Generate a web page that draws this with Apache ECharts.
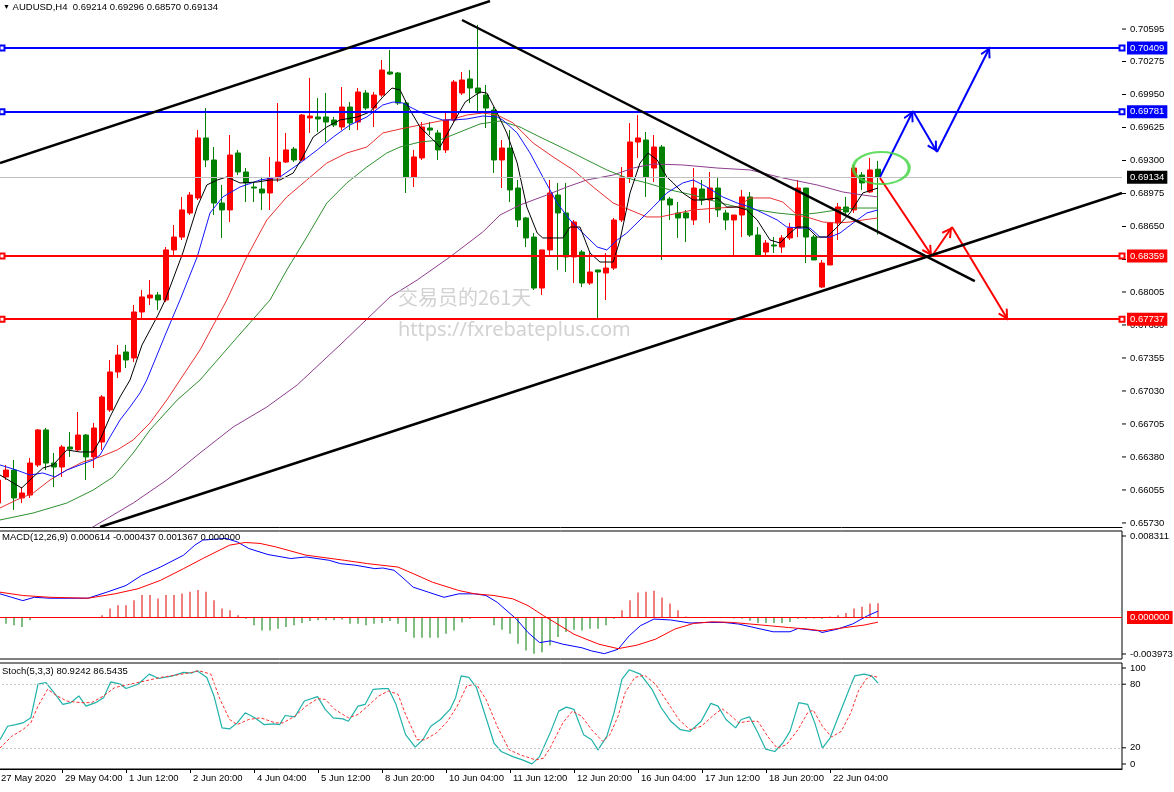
<!DOCTYPE html>
<html>
<head>
<meta charset="utf-8">
<title>AUDUSD H4</title>
<script src="https://cdn.jsdelivr.net/npm/echarts@6.0.0/dist/echarts.min.js"></script>
<style>
html,body{margin:0;padding:0;background:#ffffff;overflow:hidden}
#chart{width:1174px;height:792px}
</style>
</head>
<body>
<div id="chart"></div>
<script>
// ---------------- data ----------------
const tickLabels = ['27 May 2020','29 May 04:00','1 Jun 12:00','2 Jun 20:00','4 Jun 04:00','5 Jun 12:00','8 Jun 20:00','10 Jun 04:00','11 Jun 12:00','12 Jun 20:00','16 Jun 04:00','17 Jun 12:00','18 Jun 20:00','22 Jun 04:00'];
const barCount = 141;
const priceTicks = [0.65730,0.66055,0.66380,0.66705,0.67030,0.67355,0.67680,0.68005,0.68325,0.68650,0.68975,0.69300,0.69625,0.69950,0.70275,0.70595];
const priceRange = [0.65690, 0.70881];
const macdRange = [-0.003973, 0.008311];
const stochTicks = [0, 20, 80, 100];
const stochLevels = [80, 20];
const levelValues = [0.70409, 0.69781, 0.68359, 0.67737];

// [open, high, low, close]
const ohlc = [
[0.65926,0.66202,0.65877,0.66153],[0.66183,0.66301,0.66153,0.66251],[0.66251,0.66350,0.65858,0.65976],[0.65976,0.66084,0.65926,0.66025],
[0.66005,0.66370,0.65976,0.66320],[0.66301,0.66655,0.66281,0.66646],[0.66646,0.66665,0.66251,0.66320],[0.66320,0.66419,0.66084,0.66281],
[0.66281,0.66498,0.66183,0.66478],[0.66478,0.66626,0.66380,0.66458],[0.66449,0.66823,0.66439,0.66596],[0.66596,0.66606,0.66153,0.66380],
[0.66380,0.66715,0.66271,0.66665],[0.66527,0.66990,0.66449,0.66971],[0.66843,0.67335,0.66823,0.67217],[0.67217,0.67483,0.67158,0.67384],
[0.67414,0.67483,0.67256,0.67335],[0.67355,0.67877,0.67315,0.67808],[0.67808,0.68025,0.67749,0.67956],[0.67946,0.68123,0.67877,0.67975],
[0.67975,0.68005,0.67828,0.67926],[0.67926,0.68448,0.67906,0.68419],[0.68419,0.68665,0.68369,0.68546],[0.68546,0.68941,0.68517,0.68813],
[0.68783,0.68990,0.68763,0.68960],[0.68931,0.69600,0.68911,0.69522],[0.69522,0.69817,0.69236,0.69305],[0.69305,0.69433,0.68763,0.68881],
[0.68881,0.69059,0.68537,0.68813],[0.68813,0.69551,0.68694,0.69354],[0.69374,0.69404,0.69157,0.69187],[0.69187,0.69226,0.68891,0.69079],
[0.69039,0.69088,0.68891,0.69029],[0.69019,0.69138,0.68813,0.68980],[0.68980,0.69335,0.68813,0.69128],[0.69128,0.69866,0.69088,0.69285],
[0.69285,0.69571,0.69275,0.69404],[0.69413,0.69433,0.69285,0.69305],[0.69305,0.69758,0.69295,0.69748],[0.69719,0.70113,0.69571,0.69738],
[0.69729,0.69916,0.69581,0.69709],[0.69729,0.69965,0.69482,0.69679],[0.69699,0.69729,0.69630,0.69650],[0.69630,0.70024,0.69600,0.69827],
[0.69827,0.69876,0.69600,0.69669],[0.69679,0.70014,0.69600,0.69975],[0.69965,0.69995,0.69797,0.69817],[0.69817,0.69975,0.69630,0.69945],
[0.69945,0.70290,0.69926,0.70191],[0.70172,0.70389,0.70142,0.70152],[0.70162,0.70172,0.69847,0.69866],[0.69866,0.69896,0.68980,0.69138],
[0.69138,0.69404,0.69039,0.69335],[0.69325,0.69679,0.69305,0.69630],[0.69620,0.69679,0.69551,0.69600],[0.69571,0.69600,0.69305,0.69404],
[0.69404,0.69768,0.69374,0.69699],[0.69699,0.70093,0.69679,0.70073],[0.69965,0.70172,0.69945,0.70093],[0.70103,0.70191,0.69866,0.70014],
[0.70014,0.70635,0.69768,0.69965],[0.69945,0.70044,0.69620,0.69817],[0.69797,0.69827,0.69177,0.69305],[0.69305,0.69502,0.69029,0.69423],
[0.69423,0.69600,0.68891,0.69010],[0.69029,0.69108,0.68645,0.68714],[0.68734,0.68744,0.68448,0.68537],[0.68546,0.68586,0.68025,0.68044],
[0.68044,0.68419,0.67975,0.68419],[0.68419,0.69108,0.68350,0.68980],[0.68960,0.69079,0.68222,0.68783],[0.68783,0.69079,0.68202,0.68350],
[0.68350,0.68714,0.68093,0.68694],[0.68399,0.68419,0.68054,0.68093],[0.68093,0.68389,0.68074,0.68202],[0.68222,0.68222,0.67729,0.68202],
[0.68192,0.68389,0.67926,0.68241],[0.68241,0.68734,0.68222,0.68714],[0.68714,0.69236,0.68694,0.69138],[0.69138,0.69669,0.69079,0.69482],
[0.69482,0.69748,0.69325,0.69522],[0.69502,0.69581,0.68941,0.69138],[0.69226,0.69551,0.69088,0.69433],[0.69433,0.69453,0.68320,0.68911],
[0.68921,0.68941,0.68714,0.68862],[0.68783,0.68891,0.68537,0.68734],[0.68783,0.68813,0.68497,0.68734],[0.68714,0.69226,0.68665,0.69029],
[0.69019,0.69108,0.68862,0.68911],[0.68911,0.69187,0.68685,0.69029],[0.69029,0.69128,0.68744,0.68813],[0.68783,0.68813,0.68616,0.68714],
[0.68714,0.68763,0.68369,0.68763],[0.68763,0.69010,0.68546,0.68941],[0.68941,0.68990,0.68546,0.68566],[0.68566,0.68645,0.68369,0.68369],
[0.68399,0.68517,0.68369,0.68487],[0.68468,0.68546,0.68389,0.68458],[0.68448,0.68566,0.68389,0.68537],[0.68537,0.68685,0.68517,0.68635],
[0.68635,0.69108,0.68546,0.69029],[0.69029,0.69029,0.68290,0.68546],[0.68546,0.68566,0.68320,0.68320],[0.68054,0.68320,0.68044,0.68290],
[0.68271,0.68694,0.68271,0.68685],[0.68685,0.68881,0.68517,0.68842],[0.68842,0.68941,0.68763,0.68793],[0.68813,0.69256,0.68783,0.69226],
[0.69157,0.69187,0.69010,0.69079],[0.68990,0.69325,0.68980,0.69207],[0.69214,0.69296,0.68570,0.69134]
];

// moving averages as [bar, price]
const maBlack = [[0.25,0.66202],[2.96,0.66074],[4,0.66153],[5.6,0.66271],[6.9,0.66301],[8.6,0.66449],[10.25,0.66429],[11.9,0.66429],[12.75,0.66547],[14,0.66774],[15.25,0.66971],[16.5,0.67138],[18,0.67483],[20,0.67778],[20.9,0.67926],[23.1,0.68389],[24.9,0.68842],[26.1,0.69059],[27.4,0.69108],[28.6,0.69138],[30.25,0.69079],[32.4,0.69088],[34,0.69108],[35.25,0.69108],[36.9,0.69177],[38.1,0.69335],[39.4,0.69531],[41.1,0.69630],[42.75,0.69699],[44.9,0.69729],[46.5,0.69778],[48.1,0.69926],[49.25,0.70014],[50.25,0.69995],[51.5,0.69797],[52.75,0.69630],[54.4,0.69502],[55.25,0.69433],[56.9,0.69669],[58.4,0.69876],[60.25,0.69975],[61.1,0.69965],[62.4,0.69768],[63.6,0.69571],[64.9,0.69275],[66.1,0.68842],[67.4,0.68586],[68.1,0.68537],[69.4,0.68537],[70.6,0.68537],[71.5,0.68645],[72.75,0.68645],[74,0.68389],[75.25,0.68300],[76.9,0.68300],[77.75,0.68517],[79,0.68980],[80.25,0.69275],[81.25,0.69374],[82.4,0.69305],[83.6,0.69138],[84.4,0.69079],[85.6,0.68980],[86.9,0.68911],[88.1,0.68911],[89.9,0.68931],[91.1,0.68842],[92.4,0.68842],[93.6,0.68813],[94.9,0.68714],[96.5,0.68517],[97.75,0.68487],[99,0.68586],[99.9,0.68645],[101.1,0.68645],[102.4,0.68546],[103.6,0.68546],[104.9,0.68645],[106.5,0.68783],[108.1,0.68980],[110,0.69029]];
const maBlue = [[0.25,0.66301],[2.3,0.66251],[4,0.66202],[5.6,0.66222],[7.1,0.66183],[8.6,0.66251],[10.25,0.66301],[11.9,0.66350],[12.75,0.66399],[14,0.66577],[15.25,0.66744],[16.5,0.66872],[17.75,0.67010],[18.6,0.67138],[20.9,0.67581],[22.75,0.67926],[24.9,0.68350],[26.5,0.68783],[28.1,0.68941],[30.25,0.69039],[32.75,0.69108],[35.25,0.69138],[37.75,0.69275],[39.9,0.69404],[41.9,0.69531],[44,0.69650],[46.1,0.69729],[48.1,0.69847],[49.4,0.69876],[50.6,0.69866],[51.5,0.69827],[52.75,0.69778],[54.4,0.69729],[55.6,0.69699],[56.9,0.69699],[58.6,0.69709],[60.6,0.69738],[62.4,0.69729],[63.1,0.69699],[64.9,0.69571],[66.5,0.69374],[68.1,0.69138],[69.9,0.68881],[71.5,0.68714],[73.1,0.68586],[74.9,0.68448],[76.1,0.68419],[77.4,0.68517],[78.6,0.68586],[80.25,0.68714],[81.9,0.68842],[83.6,0.68980],[85.6,0.69079],[86.9,0.69108],[88.6,0.69039],[90.6,0.68941],[92.4,0.68881],[94,0.68842],[95.6,0.68783],[97.4,0.68714],[98.6,0.68645],[100.25,0.68635],[101.5,0.68635],[102.75,0.68546],[104,0.68546],[105.25,0.68586],[106.9,0.68685],[108.6,0.68783],[110,0.68813]];
const maRed = [[0.25,0.65877],[2.3,0.65956],[4.4,0.66025],[6.5,0.66153],[8.6,0.66251],[10.6,0.66330],[12.75,0.66380],[14.9,0.66449],[16.9,0.66547],[19,0.66715],[21.1,0.66941],[22.75,0.67138],[25.25,0.67434],[28.6,0.67926],[31.1,0.68350],[33.6,0.68714],[36.1,0.68941],[38.6,0.69108],[41.1,0.69275],[43.6,0.69374],[46.1,0.69433],[48.1,0.69571],[50.25,0.69610],[52.75,0.69650],[55.25,0.69689],[56.9,0.69709],[58.6,0.69748],[60.6,0.69768],[62.4,0.69748],[64.4,0.69669],[66.9,0.69472],[69.4,0.69335],[71.9,0.69207],[74.4,0.69039],[76.9,0.68881],[79,0.68813],[81.1,0.68744],[82.75,0.68744],[86.9,0.68813],[89.9,0.68832],[92.4,0.68842],[94,0.68931],[96.5,0.68931],[98.1,0.68891],[99.9,0.68763],[101.5,0.68734],[103.1,0.68694],[104.9,0.68685],[106.5,0.68694],[108.1,0.68714],[110,0.68734]];
const maGreen = [[0.25,0.65759],[4.4,0.65828],[8.6,0.65926],[11.9,0.66054],[14.4,0.66183],[16.9,0.66419],[19,0.66646],[22.4,0.66941],[25.25,0.67138],[29.6,0.67532],[34,0.67926],[36.1,0.68222],[38.6,0.68546],[41.1,0.68881],[43.6,0.69079],[46.1,0.69236],[48.6,0.69374],[50.25,0.69433],[52.75,0.69482],[55.25,0.69502],[57.75,0.69581],[60.25,0.69660],[62.75,0.69689],[65.25,0.69630],[67.75,0.69531],[71.1,0.69404],[73.6,0.69305],[76.1,0.69207],[78.6,0.69128],[81.1,0.69079],[84,0.69010],[86.9,0.68960],[89.9,0.68891],[92.4,0.68842],[94.9,0.68813],[97.4,0.68783],[99.9,0.68763],[102.4,0.68783],[104.9,0.68813],[107.4,0.68832],[110,0.68832]];
const maPurple = [[11,0.65650],[16.9,0.65926],[21.1,0.66153],[25.25,0.66419],[29.4,0.66675],[33.6,0.66872],[37.4,0.67089],[42.75,0.67483],[49,0.67956],[52.4,0.68123],[56.5,0.68350],[60.6,0.68596],[62.75,0.68763],[65.25,0.68862],[68.6,0.68960],[71.1,0.69039],[73.6,0.69108],[76.9,0.69157],[79.4,0.69226],[81.9,0.69266],[85.6,0.69256],[89.9,0.69226],[94,0.69207],[98.1,0.69128],[102.4,0.69059],[105.6,0.68990],[108.1,0.68960],[110,0.68941]];

// drawn objects, as [bar, price]
const upperChannel = [[0.25,0.69275],[61.5,0.70871]];
const lowerChannel = [[12.75,0.65690],[140.5,0.68980]];
const fallingLine = [[58,0.70684],[122.1,0.68113]];
const bluePath = [[110.25,0.69138],[114.375,0.69788],[117.375,0.69384],[124,0.70418]];
const redPath = [[110.25,0.69128],[116.75,0.68359],[119.25,0.68645],[126.25,0.67729]];
const circleAt = [[110.4,0.69226]];

// MACD(12,26,9)
const macdHist = [-0.00040,-0.00058,-0.00074,-0.00090,-0.00026,-0.00005,-0.00003,0.00002,0.00002,0.00003,0.00002,0.00002,0.00005,0.00022,0.00087,0.00119,0.00119,0.00167,0.00216,0.00216,0.00184,0.00216,0.00216,0.00232,0.00249,0.00264,0.00249,0.00167,0.00087,0.00071,0.00022,-0.00010,-0.00074,-0.00123,-0.00123,-0.00106,-0.00090,-0.00074,-0.00051,-0.00032,-0.00026,-0.00026,-0.00026,-0.00019,-0.00058,-0.00058,-0.00074,-0.00058,-0.00051,-0.00032,-0.00058,-0.00138,-0.00193,-0.00193,-0.00193,-0.00193,-0.00155,-0.00123,-0.00048,-0.00010,0.00003,0.00002,-0.00074,-0.00116,-0.00155,-0.00251,-0.00316,-0.00348,-0.00332,-0.00268,-0.00187,-0.00138,-0.00116,-0.00123,-0.00106,-0.00106,-0.00074,-0.00010,0.00071,0.00167,0.00242,0.00249,0.00258,0.00193,0.00135,0.00071,0.00010,0.00005,0.00004,0.00003,-0.00003,-0.00005,-0.00008,-0.00010,-0.00030,-0.00051,-0.00051,-0.00051,-0.00051,-0.00042,-0.00012,-0.00010,-0.00008,-0.00010,0.00010,0.00022,0.00045,0.00087,0.00103,0.00135,0.001367];
const macdMain = [[0.25,0.00228],[1.7,0.00195],[3.1,0.00163],[4.55,0.00195],[6.5,0.00186],[11.25,0.00186],[13.6,0.00244],[16,0.00308],[17.95,0.00405],[20.3,0.00485],[23.2,0.00599],[24.6,0.00695],[25.6,0.00744],[28.5,0.00760],[29.9,0.00727],[31.35,0.00663],[33.75,0.00605],[36.6,0.00567],[38.5,0.00582],[41.4,0.00550],[42.8,0.00518],[44.75,0.00502],[47.1,0.00470],[48.1,0.00476],[49.5,0.00454],[50.5,0.00389],[51.9,0.00292],[53.8,0.00244],[55.75,0.00195],[57.6,0.00228],[59.6,0.00228],[61,0.00212],[62.4,0.00147],[64.8,-0.00014],[66.25,-0.00143],[67.7,-0.00240],[69.1,-0.00223],[70.6,-0.00255],[73,-0.00290],[74.2,-0.00320],[75.8,-0.00346],[77.5,-0.00304],[78.9,-0.00175],[80.3,-0.00078],[82,-0.00014],[84.1,-0.00023],[86.5,-0.00052],[88.85,-0.00046],[90.7,-0.00046],[92.6,-0.00062],[94.5,-0.00095],[96.9,-0.00136],[99,-0.00136],[100,-0.00104],[102.6,-0.00127],[103,-0.00143],[104.95,-0.00110],[106.8,-0.00062],[108.7,0.00018],[110,0.000614]];
const macdSignal = [[0.25,0.00244],[3.1,0.00212],[6.5,0.00195],[11.25,0.00186],[14.6,0.00228],[17.5,0.00277],[20.3,0.00357],[23.2,0.00470],[25.6,0.00567],[28.95,0.00695],[30.9,0.00721],[32.75,0.00712],[34.7,0.00679],[38.5,0.00599],[43.3,0.00550],[46.2,0.00518],[50,0.00485],[51.9,0.00422],[54.3,0.00340],[57.6,0.00260],[59.6,0.00228],[62,0.00212],[64.35,0.00180],[66.25,0.00115],[68.2,0.00018],[69.6,-0.00046],[72,-0.00160],[75.1,-0.00255],[77.5,-0.00298],[79.85,-0.00265],[82.2,-0.00207],[84.6,-0.00110],[86.95,-0.00056],[89.3,-0.00040],[91.7,-0.00046],[94.1,-0.00062],[96.4,-0.00078],[98.8,-0.00095],[101.2,-0.00110],[103,-0.00127],[105.9,-0.00095],[108.25,-0.00072],[110,-0.000437]];

// Stoch(5,3,3)
const stochMain = [[0.25,27.6],[1.2,40.3],[2.2,41.9],[3.1,43.5],[4.1,48.3],[5,80],[6,81.6],[7,72.1],[8.1,61],[9.1,62.6],[10.1,68.9],[11,59.3],[12.2,62.6],[13.2,67.3],[14.1,82.2],[15.3,80],[16,75.9],[17.5,80],[18.9,89.5],[20.1,85.4],[21.8,87.9],[23.2,91.1],[24.2,90.5],[24.9,92.7],[26.1,86.4],[27,68.9],[28,38.8],[28.95,37.8],[29.9,43.5],[30.9,53],[32.1,48.3],[33.25,41.9],[34.45,42.5],[35.2,41.9],[35.9,50.5],[37.1,49.2],[38.3,64.1],[39.95,68.3],[40.9,56.2],[41.9,48.3],[43.1,47.3],[43.8,45],[45,59.3],[45.9,61],[46.9,75.2],[48.1,75.9],[48.8,75.9],[49.75,61],[50.95,32.4],[52.15,20.7],[53.1,27.6],[54.1,40.3],[55.3,46.7],[56.5,56.2],[57.2,67.3],[57.9,87.9],[58.85,86.4],[59.8,76.9],[61,48.3],[62,24.5],[62.9,16.5],[64.35,11.7],[65.55,8.6],[66.75,4.8],[67.7,11.7],[69.1,35.5],[70.1,54.6],[71.05,58.4],[72,56.2],[73.2,32.4],[74.2,27.6],[75,18.1],[76.1,30.8],[77,53],[78,84.8],[78.9,93.6],[80.3,89.5],[81.75,75.2],[82.9,57.8],[84.1,45],[85.3,37.1],[86.5,35.5],[87.9,45],[89.1,61.9],[90,59.3],[91,46.7],[92.2,38.8],[92.9,46.7],[93.95,49.2],[95,34],[95.95,18.8],[97.1,16.5],[98.1,24.5],[99,35.5],[100.1,62.6],[101.2,61],[102.1,43.5],[103.05,19.7],[104,29.2],[105.4,56.2],[106.4,75.2],[107.1,87.9],[108.25,89.5],[109.2,87.9],[110,80.92]];
const stochSignal = [[0.25,19.7],[1.7,30.8],[3.1,37.1],[4.1,43.5],[5,59.3],[6.2,75.2],[7.4,68.9],[8.6,64.1],[10.3,62.6],[11.7,62.6],[13.2,68.9],[14.6,76.9],[16.5,80],[18.4,83.1],[20.3,86.4],[22.25,88.6],[24.2,91.1],[25.1,92.7],[26.6,89.5],[27.75,65.7],[28.95,46.7],[29.9,41.9],[31.35,46.7],[32.8,48.3],[34.7,43.5],[35.65,43.5],[37.1,49.8],[38.5,59.3],[39.95,66.4],[40.9,65.7],[42.1,56.2],[43.8,48.3],[45,51.4],[46.2,59.3],[47.6,68.9],[48.8,73.6],[50,70.5],[50.95,51.4],[52.4,27.6],[53.35,27.6],[54.8,34],[56.2,45],[57.4,59.3],[58.6,78.4],[59.8,80],[61,65.7],[62.4,40.3],[63.9,18.1],[65.3,13.3],[67.2,8.6],[68.2,10.2],[69.1,21.2],[70.6,43.5],[71.8,54.6],[72.95,49.8],[74.2,37.1],[75.6,26],[76.5,32.4],[77.5,49.8],[78.4,72.1],[79.6,86.4],[80.8,88.6],[82.2,80],[83.6,64.1],[85.1,46.7],[86.5,37.1],[87.9,40.3],[89.3,49.8],[90.5,56.8],[91.45,51.4],[92.6,43.5],[93.8,45],[95,45],[96.2,30.8],[97.4,19.7],[98.55,22.9],[100,37.1],[101.2,53],[101.9,55.6],[103.05,40.3],[104.2,30.2],[105.4,35.5],[106.6,53],[107.55,73.6],[108.5,84.8],[109.2,87.9],[110,86.54]];

// ---------------- chart ----------------
const chart = echarts.init(document.getElementById('chart'), null, {renderer: 'canvas'});
const FONT = 'Liberation Sans';
const FS = 9.5;
const xMax = barCount - 0.5;
const categories = Array.from({length: barCount}, (_, i) => (i % 8 === 0 && i / 8 < tickLabels.length) ? tickLabels[i / 8] : '');
const last = ohlc[ohlc.length - 1];
const lastClose = last[3];
const gridBase = {left: -6, right: 52, containLabel: false, outerBoundsMode: 'none'};
const txt = {fontSize: FS, fontFamily: FONT, color: '#000', fontWeight: 'normal'};
const chevron = 'path://M5,-10L5.01,-10L5,-9.99Z M5,0L10,9L8.6,10.2L5,3.6L1.4,10.2L0,9Z';
// right-scale label: a small tick mark segment followed by the value
const scaleRich = {
  tk: {width: 4, height: 1, backgroundColor: '#000', verticalAlign: 'middle'},
  v: {fontSize: FS, fontFamily: FONT, color: '#000', padding: [0, 0, 0, 4], verticalAlign: 'middle'}
};
function scaleLabel(values, digits, extra) {
  return Object.assign({customValues: values, margin: 0, rich: scaleRich,
    formatter: v => '{tk|}{v|' + (digits === null ? String(v) : v.toFixed(digits)) + '}'}, txt, extra || {});
}

function valueX(gridIndex) {
  return {type: 'value', gridIndex, min: -0.5, max: xMax, show: false};
}
function line(name, data, color, width, xi, yi, extra) {
  return Object.assign({
    name, type: 'line', data, xAxisIndex: xi, yAxisIndex: yi,
    showSymbol: false, symbol: 'none', silent: true, animation: false,
    lineStyle: {color, width}, emphasis: {disabled: true}, z: 3
  }, extra || {});
}
function arrowSegs(path, color) {
  const segs = [];
  for (let i = 0; i < path.length - 1; i++) {
    segs.push([
      {coord: path[i], symbol: 'none', lineStyle: {color, width: 2, type: 'solid'}, label: {show: false}},
      {coord: path[i + 1], symbol: chevron, symbolSize: [11, 22]}
    ]);
  }
  return segs;
}
const levelColors = ['#0000ff', '#0000ff', '#ff0000', '#ff0000'];
function boxLabel(text, bg) {
  return {show: true, position: 'end', distance: 5, formatter: text, color: '#fff',
    backgroundColor: bg, padding: [2, 3, 1, 3], fontSize: FS, fontFamily: FONT};
}
const levelMarks = levelValues.map((v, i) => [
  {coord: [0.5, v], symbol: 'emptyRect', symbolSize: 5,
   lineStyle: {color: levelColors[i], width: 2, type: 'solid'}, label: boxLabel(v.toFixed(5), levelColors[i])},
  {coord: [xMax, v], symbol: 'emptyRect', symbolSize: 5}
]);
levelMarks.unshift([
  {coord: [0.25, lastClose], symbol: 'none', lineStyle: {color: '#c0c0c0', width: 1, type: 'solid'}, label: boxLabel(lastClose.toFixed(5), '#000')},
  {coord: [xMax, lastClose], symbol: 'none'}
]);

const option = {
  animation: false,
  backgroundColor: '#ffffff',
  title: [
    {text: '{t|▼} AUDUSD,H4  ' + last.map(v => v.toFixed(5)).join(' '), left: 3, top: 2, padding: 0,
     textStyle: Object.assign({}, txt, {rich: {t: {fontSize: 7, color: '#000', fontFamily: FONT}}})},
    {text: 'MACD(12,26,9) 0.000614 -0.000437 0.001367 0.000000', left: 2, top: 532, padding: 0, textStyle: txt},
    {text: 'Stoch(5,3,3) 80.9242 86.5435', left: 2, top: 666, padding: 0, textStyle: txt},
    {text: '交易员的261天', left: 398, top: 287, padding: 0,
     textStyle: {fontSize: 20, color: '#d2d2d2', fontFamily: 'Noto Sans CJK SC', fontWeight: 'normal'}},
    {text: 'https://fxrebateplus.com', left: 398, top: 320, padding: 0,
     textStyle: {fontSize: 20, color: '#d2d2d2', fontFamily: 'Noto Sans', fontWeight: 'normal'}}
  ],
  grid: [
    Object.assign({top: 0, height: 527, show: false}, gridBase),
    Object.assign({top: 531, height: 128, show: true, borderColor: '#000', borderWidth: 1, backgroundColor: 'transparent'}, gridBase),
    Object.assign({top: 663, height: 106, show: true, borderColor: '#000', borderWidth: 1, backgroundColor: 'transparent'}, gridBase)
  ],
  xAxis: [
    {type: 'category', gridIndex: 0, data: categories, boundaryGap: true,
     axisLine: {show: true, lineStyle: {color: '#000', width: 1}}, axisTick: {show: false}, axisLabel: {show: false}, splitLine: {show: false}},
    {type: 'category', gridIndex: 1, data: categories, boundaryGap: true, show: false},
    {type: 'category', gridIndex: 2, data: categories, boundaryGap: true,
     axisLine: {show: true, lineStyle: {color: '#000', width: 1}},
     axisTick: {show: true, alignWithLabel: true, interval: (i, v) => v !== '', length: 4, lineStyle: {color: '#000'}},
     axisLabel: Object.assign({show: true, interval: (i, v) => v !== '', align: 'left', padding: [0, 0, 0, 3], margin: 4}, txt),
     splitLine: {show: false}},
    valueX(0), valueX(1), valueX(2)
  ],
  yAxis: [
    {type: 'value', gridIndex: 0, position: 'right', min: priceRange[0], max: priceRange[1],
     axisLine: {show: true, lineStyle: {color: '#000'}},
     axisTick: {show: false}, minorTick: {show: false},
     axisLabel: scaleLabel(priceTicks, 5),
     splitLine: {show: false}},
    {type: 'value', gridIndex: 1, position: 'right', min: macdRange[0], max: macdRange[1],
     axisLine: {show: true, lineStyle: {color: '#000'}},
     axisTick: {show: false}, minorTick: {show: false},
     axisLabel: scaleLabel([macdRange[0], macdRange[1]], 6, {verticalAlignMaxLabel: 'top', verticalAlignMinLabel: 'bottom'}),
     splitLine: {show: false}},
    {type: 'value', gridIndex: 2, position: 'right', min: 0, max: 100,
     axisLine: {show: true, lineStyle: {color: '#000'}},
     axisTick: {show: false}, minorTick: {show: false},
     axisLabel: scaleLabel(stochTicks, null, {verticalAlignMaxLabel: 'top', verticalAlignMinLabel: 'bottom'}),
     splitLine: {show: false}}
  ],
  series: [
    {name: 'AUDUSD', type: 'candlestick', xAxisIndex: 0, yAxisIndex: 0, silent: true, animation: false,
     data: ohlc.map(d => [d[0], d[3], d[2], d[1]]), barWidth: 5,
     itemStyle: {color: '#ff0000', color0: '#008000', borderColor: '#ff0000', borderColor0: '#008000', borderWidth: 1},
     emphasis: {disabled: true}, z: 2},
    line('MA purple', maPurple, '#8e3e8e', 1, 3, 0),
    line('MA green', maGreen, '#2f8f2f', 1, 3, 0),
    line('MA red', maRed, '#e83030', 1, 3, 0),
    line('MA blue', maBlue, '#1414ff', 1, 3, 0),
    line('MA black', maBlack, '#000000', 1, 3, 0),
    line('Upper channel', upperChannel, '#000000', 2.5, 3, 0, {clip: false, z: 5,
      markLine: {silent: true, animation: false, symbol: 'none', emphasis: {disabled: true},
        data: levelMarks.concat(arrowSegs(bluePath, '#0000ff'), arrowSegs(redPath, '#ff0000'))}}),
    line('Lower channel', lowerChannel, '#000000', 2.5, 3, 0, {z: 5}),
    line('Falling line', fallingLine, '#000000', 2.5, 3, 0, {z: 5}),
    {name: 'Circle', type: 'scatter', xAxisIndex: 3, yAxisIndex: 0, data: circleAt, silent: true,
     symbol: 'circle', symbolSize: [56, 32], z: 6,
     itemStyle: {color: 'rgba(0,0,0,0)', borderColor: '#3fd43f', borderWidth: 2.5}, emphasis: {disabled: true}},
    {name: 'MACD hist', type: 'bar', xAxisIndex: 1, yAxisIndex: 1, data: macdHist, barWidth: 1, silent: true,
     clip: false, animation: false,
     itemStyle: {color: p => (p.value >= 0 ? '#e00000' : '#007a00')}, emphasis: {disabled: true},
     markLine: {silent: true, animation: false, symbol: 'none', emphasis: {disabled: true},
       lineStyle: {color: '#ff0000', width: 1, type: 'solid'},
       data: [{yAxis: 0, label: boxLabel('0.000000', '#ff0000')}]}},
    line('MACD main', macdMain, '#0000ff', 1, 4, 1),
    line('MACD signal', macdSignal, '#ff0000', 1, 4, 1),
    line('Stoch main', stochMain, '#20b2aa', 1.2, 5, 2),
    line('Stoch signal', stochSignal, '#ff3030', 1, 5, 2, {
      lineStyle: {color: '#ff3030', width: 1, type: [3, 2]},
      markLine: {silent: true, animation: false, symbol: 'none', emphasis: {disabled: true},
        lineStyle: {color: '#c4c4c4', width: 1, type: [2, 2]}, label: {show: false},
        data: stochLevels.map(v => ({yAxis: v}))}})
  ]
};
chart.setOption(option);
</script>
</body>
</html>
